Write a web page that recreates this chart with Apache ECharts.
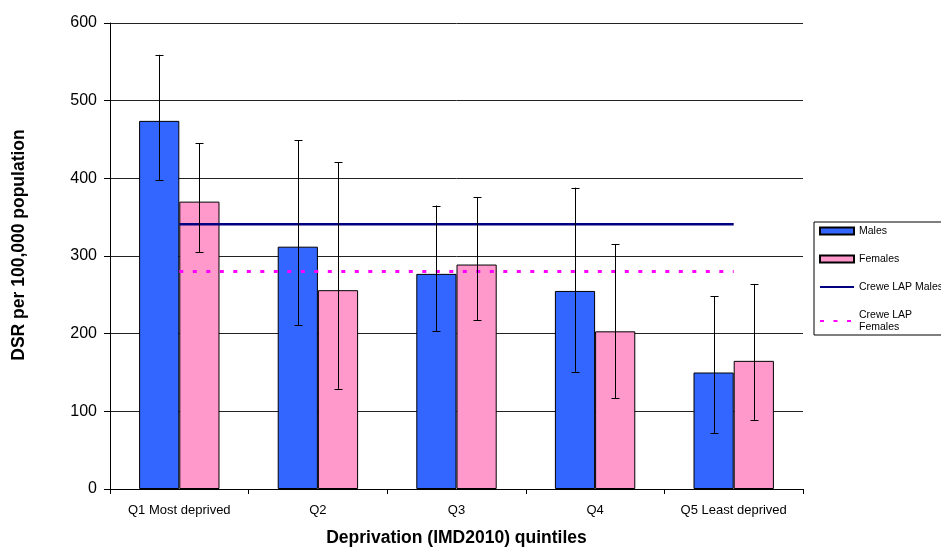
<!DOCTYPE html>
<html><head><meta charset="utf-8">
<script src="https://cdn.jsdelivr.net/npm/echarts@6/dist/echarts.min.js"></script>
<style>html,body{margin:0;padding:0;background:#fff}#c{width:941px;height:547px}</style>
</head><body><div id="c"></div>
<script>
const categories = ['Q1 Most deprived','Q2','Q3','Q4','Q5 Least deprived'];
const males = [474, 312, 277, 255, 150];
const malesLow = [398, 211, 203, 151, 72];
const malesHigh = [559, 449, 365, 388, 248];
const females = [370, 256, 289, 203, 165];
const femalesLow = [305, 129, 217, 117, 89];
const femalesHigh = [445, 421, 376, 315, 264];
const creweMales = [341, 341, 341, 341, 341];
const creweFemales = [280, 280, 280, 280, 280];
const yTicks = [0, 100, 200, 300, 400, 500, 600];

const FONT = 'Liberation Sans, Arial, sans-serif';
const GAP = 0.42;

function errData(lo, hi){ return lo.map((v,i)=>[i, v, hi[i]]); }
function errRender(side){
  return function(params, api){
    const i = api.value(0);
    const band = api.size([1,0])[0];
    const off = side * band * (1-GAP)/4;
    const pLo = api.coord([i, api.value(1)]);
    const pHi = api.coord([i, api.value(2)]);
    const x = Math.round(pLo[0] + off) + 0.5;
    const cw = 4;
    const st = {stroke:'#000', lineWidth:1};
    return {type:'group', children:[
      {type:'line', shape:{x1:x, y1:pLo[1], x2:x, y2:pHi[1]}, style:st},
      {type:'line', shape:{x1:x-cw, y1:Math.round(pLo[1])+0.5, x2:x+cw, y2:Math.round(pLo[1])+0.5}, style:st},
      {type:'line', shape:{x1:x-cw, y1:Math.round(pHi[1])+0.5, x2:x+cw, y2:Math.round(pHi[1])+0.5}, style:st}
    ]};
  };
}

const chart = echarts.init(document.getElementById('c'), null, {renderer:'canvas'});
chart.setOption({
  animation:false,
  textStyle:{fontFamily:FONT},
  grid:{left:110, top:23, right:138, bottom:58, outerBoundsMode:'none', containLabel:false},
  legend:{
    orient:'vertical', left:814, top:222,
    padding:[3,4,2,5],
    borderColor:'#000', borderWidth:1,
    itemWidth:34, itemHeight:7, itemGap:16,
    textStyle:{fontFamily:FONT, fontSize:10.5, color:'#000', lineHeight:12},
    data:[
      {name:'Males', icon:'rect'},
      {name:'Females', icon:'rect'},
      {name:'Crewe LAP Males', itemStyle:{opacity:0}},
      {name:'Crewe LAP\nFemales', itemStyle:{opacity:0}}
    ]
  },
  xAxis:{
    type:'category', data:categories,
    name:'Deprivation (IMD2010) quintiles', nameLocation:'middle', nameGap:40,
    nameTextStyle:{fontFamily:FONT, fontSize:17.5, fontWeight:'bold', color:'#000'},
    axisLine:{lineStyle:{color:'#000', width:1}},
    axisTick:{show:true, length:5, lineStyle:{color:'#000'}},
    axisLabel:{fontFamily:FONT, fontSize:13, color:'#000', margin:15}
  },
  yAxis:{
    type:'value', min:yTicks[0], max:yTicks[yTicks.length-1], interval:100,
    name:'DSR per 100,000 population', nameLocation:'middle', nameGap:82,
    nameTextStyle:{fontFamily:FONT, fontSize:17.5, fontWeight:'bold', color:'#000', padding:[0,0,0,22]},
    axisLine:{show:true, lineStyle:{color:'#000', width:1}},
    axisTick:{show:true, length:6, lineStyle:{color:'#000'}},
    axisLabel:{fontFamily:FONT, fontSize:16, color:'#000', margin:13, padding:[2,0,0,0]},
    splitLine:{lineStyle:{color:'#222', width:1}}
  },
  series:[
    {name:'Males', type:'bar', data:males, barGap:'0%', barCategoryGap:(GAP*100)+'%',
     itemStyle:{color:'#3366FF', borderColor:'#000', borderWidth:1}},
    {name:'Females', type:'bar', data:females, barGap:'0%', barCategoryGap:(GAP*100)+'%',
     itemStyle:{color:'#FF99CC', borderColor:'#000', borderWidth:1}},
    {name:'Crewe LAP Males', type:'line', data:creweMales, symbol:'none', z:5,
     lineStyle:{color:'#000080', width:2.5}, itemStyle:{color:'#000080'}},
    {name:'Crewe LAP\nFemales', type:'line', data:creweFemales, symbol:'none', z:5,
     lineStyle:{color:'#FF00FF', width:3, type:[4,9.5]}, itemStyle:{color:'#FF00FF'}},
    {name:'errM', type:'custom', data:errData(malesLow, malesHigh), renderItem:errRender(-1), z:10, silent:true},
    {name:'errF', type:'custom', data:errData(femalesLow, femalesHigh), renderItem:errRender(1), z:10, silent:true}
  ]
});
</script></body></html>
